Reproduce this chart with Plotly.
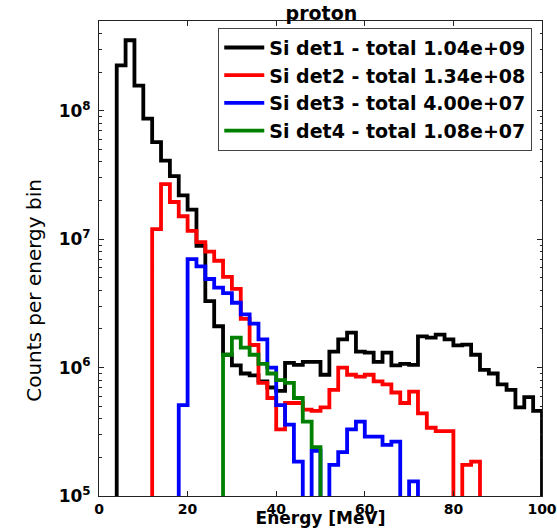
import numpy as np
import plotly.graph_objects as go

# ---------------- data ----------------
bin_width = 2.0                              # MeV
energy_low = np.arange(0, 100, 2)            # lower edge of each 2 MeV bin (50 bins)

series_names = [
    "Si det1 - total 1.04e+09",
    "Si det2 - total 1.34e+08",
    "Si det3 - total 4.00e+07",
    "Si det4 - total 1.08e+07",
]
series_colors = ["#000000", "#ff0000", "#0000ff", "#008000"]

det1_counts = [0, 0, 2.26e8, 3.55e8, 1.57e8, 8.7e7, 5.7e7, 4.1e7, 3.1e7, 2.2e7,
               1.7e7, 8.9e6, 3.3e6, 2.1e6, 1.26e6, 1.04e6, 9.0e5, 8.7e5, 7.8e5, 7.0e5,
               6.6e5, 1.09e6, 1.05e6, 1.11e6, 1.11e6, 8.8e5, 1.33e6, 1.66e6, 1.87e6, 1.33e6,
               1.31e6, 1.11e6, 1.31e6, 1.04e6, 1.07e6, 1.05e6, 1.75e6, 1.71e6, 1.81e6, 1.66e6,
               1.49e6, 1.51e6, 1.26e6, 9.6e5, 9.0e5, 7.4e5, 6.7e5, 4.9e5, 5.9e5, 4.6e5]

det2_counts = [0, 0, 0, 0, 0, 0, 1.2e7, 2.69e7, 1.95e7, 1.51e7,
               1.16e7, 9.5e6, 8.0e6, 6.8e6, 5.1e6, 4.1e6, 2.4e6, 1.5e6, 7.6e5, 5.8e5,
               3.3e5, 5.3e5, 5.3e5, 4.7e5, 4.6e5, 4.9e5, 6.7e5, 1.0e6, 8.8e5, 8.5e5,
               8.8e5, 7.8e5, 7.4e5, 6.4e5, 5.3e5, 6.5e5, 4.4e5, 3.4e5, 3.2e5, 3.2e5,
               0, 1.75e5, 1.85e5, 0, 0, 0, 0, 0, 0, 0]

det3_counts = [0, 0, 0, 0, 0, 0, 0, 0, 0, 5.1e5,
               7.0e6, 6.15e6, 4.9e6, 4.2e6, 3.8e6, 3.2e6, 2.6e6, 2.2e6, 1.66e6, 1.0e6,
               5.1e5, 3.6e5, 1.85e5, 0, 2.25e5, 0, 1.75e5, 2.2e5, 3.3e5, 3.8e5,
               2.9e5, 2.9e5, 2.5e5, 2.65e5, 0, 1.3e5, 0, 0, 0, 0,
               0, 0, 0, 0, 0, 0, 0, 0, 0, 0]

det4_counts = [0, 0, 0, 0, 0, 0, 0, 0, 0, 0,
               0, 0, 0, 0, 1.26e6, 1.71e6, 1.43e6, 1.26e6, 1.07e6, 9.0e5,
               8.0e5, 7.6e5, 5.8e5, 3.8e5, 2.4e5, 0, 0, 0, 0, 0,
               0, 0, 0, 0, 0, 0, 0, 0, 0, 0,
               0, 0, 0, 0, 0, 0, 0, 0, 0, 0]

x_ticks = [0, 20, 40, 60, 80, 100]
y_ticks = [1e5, 1e6, 1e7, 1e8]
y_tick_labels = ["10<sup>5</sup>", "10<sup>6</sup>", "10<sup>7</sup>", "10<sup>8</sup>"]

# ---------------- figure ----------------
FLOOR = 1.0  # empty bins drop below the visible log range (like matplotlib step)


def step_xy(values):
    v = np.asarray(values, dtype=float)
    v = np.where(v > 0, v, FLOOR)
    edges = np.append(energy_low, energy_low[-1] + bin_width)
    x = np.concatenate([[edges[0]], edges[:-1], [edges[-1]]])
    y = np.concatenate([[FLOOR], v, [FLOOR]])
    return x, y


fig = go.Figure()
for name, color, vals in zip(series_names, series_colors,
                             [det1_counts, det2_counts, det3_counts, det4_counts]):
    x, y = step_xy(vals)
    fig.add_trace(go.Scatter(x=x, y=y, mode="lines", name=name,
                             line=dict(color=color, width=3.8, shape="hv")))

BOLD = dict(family="DejaVu Sans", color="black", weight="bold")
frame = "#222222"

fig.update_layout(
    width=557, height=528,
    margin=dict(l=99, r=15, t=21, b=32, autoexpand=False),
    paper_bgcolor="white", plot_bgcolor="white",
    title=dict(text="proton", x=0.577, xanchor="center", y=0.988, yanchor="top",
               font=dict(size=19, **BOLD)),
    showlegend=True,
    legend=dict(x=0.978, xanchor="right", y=0.986, yanchor="top",
                bgcolor="white", bordercolor="#444444", borderwidth=1,
                font=dict(size=19, **BOLD), itemwidth=40,
                tracegroupgap=0, traceorder="normal"),
    xaxis=dict(range=[0, 100], tickvals=x_ticks, ticks="inside", ticklen=5,
               tickcolor=frame, mirror="allticks", showline=True, linecolor=frame,
               linewidth=1, showgrid=False, zeroline=False,
               tickfont=dict(size=14, **BOLD),
               title=dict(text="Energy [MeV]", font=dict(size=17, **BOLD), standoff=0),
               automargin=False),
    yaxis=dict(type="log", range=[5, 8.70], tickvals=y_ticks, ticktext=y_tick_labels,
               ticks="inside", ticklen=5, tickcolor=frame, mirror="allticks",
               showline=True, linecolor=frame, linewidth=1, showgrid=False,
               zeroline=False, tickfont=dict(size=17, **BOLD), ticklabelstandoff=4,
               minor=dict(ticks="inside", ticklen=2.5, tickcolor=frame, dtick="D1",
                          showgrid=False),
               automargin=False),
    annotations=[dict(text="Counts per energy bin", textangle=-90,
                      xref="paper", yref="paper", x=0, y=0.432, xshift=-65,
                      xanchor="center", yanchor="middle", showarrow=False,
                      font=dict(size=20, family="DejaVu Sans", color="black"))],
)

fig.write_html("out.html", config={"displayModeBar": False},
               post_script="document.body.style.margin='0';document.body.style.padding='0';")
